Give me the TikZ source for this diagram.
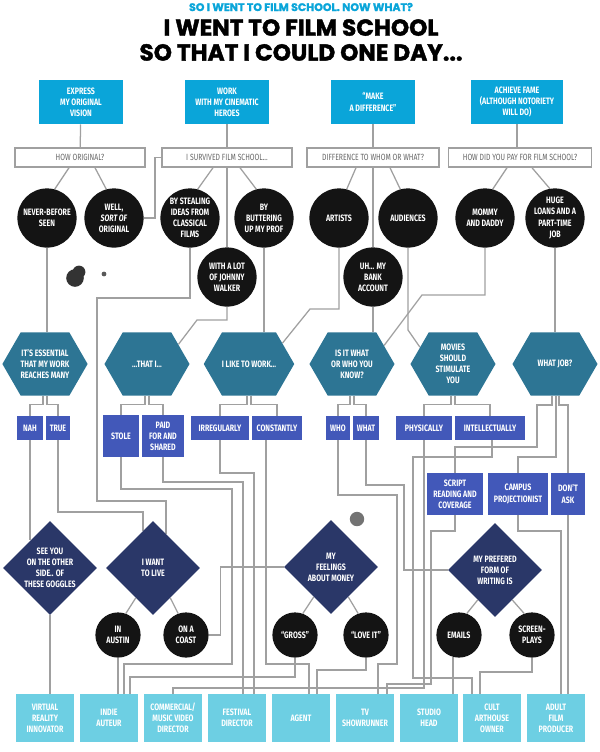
\documentclass[tikz,border=0pt]{standalone}
\usepackage{fontspec}
\setmainfont{Fira Sans}
\newfontfamily\condfont{Fira Sans}[FakeStretch=0.76]
\newfontfamily\titlefont{Poppins}[BoldFeatures={FakeBold=1.6}]
\usetikzlibrary{shapes.geometric,shapes.symbols,calc,backgrounds}

\definecolor{topblue}{HTML}{0AA5D9}
\definecolor{hexteal}{HTML}{2D7594}
\definecolor{rectblue}{HTML}{4258B9}
\definecolor{navy}{HTML}{2A3768}
\definecolor{pale}{HTML}{6DCFE3}
\definecolor{linegrey}{HTML}{A0A0A0}

\tikzset{
  lbl/.style={font=\condfont\bfseries\fontsize{6.6}{7.9}\selectfont, text=white, align=center},
  topbox/.style={lbl, rectangle, fill=topblue, minimum width=2.08cm, minimum height=1.1cm, inner sep=0},
  question/.style={rectangle, draw=linegrey, line width=0.9pt, fill=white, minimum height=0.48cm,
    inner sep=0, align=center, text=black!60, font=\condfont\fontsize{6.4}{7.7}\selectfont},
  bubble/.style={lbl, circle, fill=black!92, minimum size=1.48cm, inner sep=-3pt},
  smallbubble/.style={bubble, minimum size=1.13cm},
  hexa/.style={lbl, signal, signal to=east and west, signal pointer angle=120, fill=hexteal,
    minimum width=2.125cm, minimum height=1.575cm, inner sep=0},
  answer/.style={lbl, rectangle, fill=rectblue, minimum height=0.58cm, inner sep=0},
  decision/.style={lbl, diamond, fill=navy, minimum size=2.35cm, inner sep=-4pt},
  career/.style={lbl, rectangle, fill=pale, minimum width=1.45cm, minimum height=1.18cm, inner sep=0},
  wire/.style={draw=linegrey, line width=0.9pt},
}

\begin{document}
\begin{tikzpicture}[x=0.025cm,y=-0.025cm]
\useasboundingbox (0,0) rectangle (600,752);

% titles
\node[font=\titlefont\bfseries\fontsize{7.8}{9}\selectfont, text=topblue] (kicker) at (301,7) {SO I WENT TO FILM SCHOOL. NOW WHAT?};
\node[font=\titlefont\bfseries\fontsize{16.5}{17.7}\selectfont, align=center] (headline) at (301,40) {I WENT TO FILM SCHOOL\\SO THAT I COULD ONE DAY...};

% goals
\node[topbox] (e1) at (81,102) {EXPRESS\\MY ORIGINAL\\VISION};
\node[topbox] (e2) at (227,102) {WORK\\WITH MY CINEMATIC\\HEROES};
\node[topbox] (e3) at (373,102) {“MAKE\\A DIFFERENCE”};
\node[topbox, minimum width=2.3cm] (e4) at (517,102) {ACHIEVE FAME\\(ALTHOUGH NOTORIETY\\WILL DO)};

\node[question, minimum width=3.25cm] (q1) at (80,157.5) {HOW ORIGINAL?};
\node[question, minimum width=3.25cm] (q2) at (227,157.5) {I SURVIVED FILM SCHOOL...};
\node[question, minimum width=3.3cm] (q3) at (373,157.5) {DIFFERENCE TO WHOM OR WHAT?};
\node[question, minimum width=3.58cm] (q4) at (520,157.5) {HOW DID YOU PAY FOR FILM SCHOOL?};

% first answers
\node[bubble] (c_never) at (47,218) {NEVER-BEFORE\\SEEN};
\node[bubble] (c_well) at (114,218) {WELL,\\\textit{SORT OF}\\ORIGINAL};
\node[bubble] (c_steal) at (190,218) {BY STEALING\\IDEAS FROM\\CLASSICAL\\FILMS};
\node[bubble] (c_butter) at (264,218) {BY\\BUTTERING\\UP MY PROF};
\node[bubble] (c_artists) at (339,218) {ARTISTS};
\node[bubble] (c_aud) at (408,218) {AUDIENCES};
\node[bubble] (c_mommy) at (485,218) {MOMMY\\AND DADDY};
\node[bubble] (c_loans) at (555,218) {HUGE\\LOANS AND A\\PART-TIME\\JOB};
\node[bubble] (c_johnny) at (227,277) {WITH A LOT\\OF JOHNNY\\WALKER};
\node[bubble] (c_bank) at (373,277) {UH... MY\\BANK\\ACCOUNT};

% hexagons
\node[hexa] (h1) at (45,364) {IT’S ESSENTIAL\\THAT MY WORK\\REACHES MANY};
\node[hexa] (h2) at (147,364) {...THAT I...};
\node[hexa] (h3) at (249,364) {I LIKE TO WORK...};
\node[hexa] (h4) at (352,364) {IS IT WHAT\\OR WHO YOU\\KNOW?};
\node[hexa] (h5) at (453,364) {MOVIES\\SHOULD\\STIMULATE\\YOU};
\node[hexa] (h6) at (555,364) {WHAT JOB?};

% blue answers
\node[answer, minimum width=0.63cm] (r_nah) at (30,428) {NAH};
\node[answer, minimum width=0.6cm] (r_true) at (58,428) {TRUE};
\node[answer, minimum width=0.9cm, minimum height=1.05cm] (r_stole) at (121,436) {STOLE};
\node[answer, minimum width=1.03cm, minimum height=1.05cm] (r_paid) at (163,436) {PAID\\FOR AND\\SHARED};
\node[answer, minimum width=1.45cm] (r_irreg) at (220,428) {IRREGULARLY};
\node[answer, minimum width=1.25cm] (r_const) at (277,428) {CONSTANTLY};
\node[answer, minimum width=0.6cm] (r_who) at (338,428) {WHO};
\node[answer, minimum width=0.65cm] (r_what) at (366,428) {WHAT};
\node[answer, minimum width=1.38cm] (r_phys) at (424,428) {PHYSICALLY};
\node[answer, minimum width=1.73cm] (r_intel) at (490,428) {INTELLECTUALLY};
\node[answer, minimum width=1.4cm, minimum height=1.05cm] (r_script) at (455,494) {SCRIPT\\READING AND\\COVERAGE};
\node[answer, minimum width=1.5cm, minimum height=1.05cm] (r_campus) at (518,494) {CAMPUS\\PROJECTIONIST};
\node[answer, minimum width=0.83cm, minimum height=1.05cm] (r_dont) at (568,494) {DON’T\\ASK};

% diamonds
\node[decision] (d_goggles) at (50,568) {SEE YOU\\ON THE OTHER\\SIDE.. OF\\THESE GOGGLES};
\node[decision] (d_live) at (153,568) {I WANT\\TO LIVE};
\node[decision] (d_money) at (331,567) {MY\\FEELINGS\\ABOUT MONEY};
\node[decision] (d_write) at (495,570) {MY PREFERED\\FORM OF\\WRITING IS};

\node[smallbubble] (c_austin) at (118,635) {IN\\AUSTIN};
\node[smallbubble] (c_coast) at (186,635) {ON A\\COAST};
\node[smallbubble] (c_gross) at (295,635) {“GROSS”};
\node[smallbubble] (c_love) at (366,635) {“LOVE IT”};
\node[smallbubble] (c_emails) at (459,635) {EMAILS};
\node[smallbubble] (c_screen) at (532,635) {SCREEN-\\PLAYS};

% careers
\node[career] (b_vr) at (45,718) {VIRTUAL\\REALITY\\INNOVATOR};
\node[career] (b_indie) at (109,718) {INDIE\\AUTEUR};
\node[career] (b_comm) at (173,718) {COMMERCIAL/\\MUSIC VIDEO\\DIRECTOR};
\node[career] (b_fest) at (237,718) {FESTIVAL\\DIRECTOR};
\node[career] (b_agent) at (301,718) {AGENT};
\node[career] (b_tv) at (365,718) {TV\\SHOWRUNNER};
\node[career] (b_studio) at (429,718) {STUDIO\\HEAD};
\node[career] (b_cult) at (492,718) {CULT\\ARTHOUSE\\OWNER};
\node[career] (b_adult) at (556,718) {ADULT\\FILM\\PRODUCER};

% ink blots
\fill[black!80] (75,278) circle [radius=0.22cm];
\fill[black!80] (79,272) circle [radius=0.16cm];
\fill[black!65] (104,274) circle [radius=0.06cm];
\fill[black!55] (357,519) circle [radius=0.18cm];

\begin{scope}[on background layer]
% top
\foreach \a/\b in {e1/q1,e2/q2,e3/q3} \draw[wire] (\a) -- (\b);
\draw[wire] (e4.south) -- (e4.south |- q4.north);
\draw[wire] ($(q1.south)+(-11,0)$) -- (c_never.75);
\draw[wire] ($(q1.south)+(15,0)$) -- (c_well.105);
\draw[wire] ($(q2.south)+(-14,0)$) -- (c_steal.75);
\draw[wire] (q2) -- (c_johnny);
\draw[wire] ($(q2.south)+(13,0)$) -- (c_butter.105);
\draw[wire] ($(q3.south)+(-17,0)$) -- (c_artists.75);
\draw[wire] (q3) -- (c_bank);
\draw[wire] ($(q3.south)+(17,0)$) -- (c_aud.105);
\draw[wire] ($(q4.south)+(-13,0)$) -- (c_mommy.75);
\draw[wire] ($(q4.south)+(12,0)$) -- (c_loans.100);
\draw[wire] (c_well.east) -- ++(11,0) |- (q2.west);

% into the hexagons
\draw[wire] (c_never.south) -- (c_never.south |- h1.north);
\draw[wire] (c_steal.south) |- (97,298) |- (d_live.69 |- 0,501) -- (d_live.69);
\draw[wire] (c_johnny.south) |- (197,320) -- (h2.32);
\draw[wire] (c_butter.south) -- (c_butter.south |- h3.north);
\draw[wire] (c_artists.south) |- (310,309) -- (h3.32);
\draw[wire] (c_bank.south) -- (c_bank.south |- h4.north);
\draw[wire] (c_aud.south) -- (408,330) -- (h5.153);
\draw[wire] (c_mommy.south) |- (422,295) -- (h4.30);
\draw[wire] (c_loans.south) -- (c_loans.south |- h6.north);

% hexagon forks
\foreach \h/\l/\r in {h1/r_nah/r_true,h2/r_stole/r_paid,h3/r_irreg/r_const,h4/r_who/r_what,h5/r_phys/r_intel}{
  \draw[wire] ($(\h.south)+(-2,0)$) -- ++(0,9) -| (\l.north);
  \draw[wire] ($(\h.south)+(2,0)$) -- ++(0,9) -| (\r.north);
}
\draw[wire] ($(h6.south)+(-3,0)$) |- (537,405) |- (r_script.north |- 0,447) -- (r_script.north);
\draw[wire] ($(h6.south)+(1,0)$) |- (r_campus.north |- 0,457) -- (r_campus.north);
\draw[wire] ($(h6.south)+(4,0)$) |- (r_dont.north |- 0,405) -- (r_dont.north);

% answers downward
\draw[wire] (r_nah.south) -- (r_nah.south |- d_goggles.125);
\draw[wire] (r_true.south) |- (d_live.105 |- 0,512) -- (d_live.105);
\draw[wire] (r_stole.south) |- (232,489) |- (124,664) -- (b_indie.north -| 124,0);
\draw[wire] (r_paid.south) |- (243,482) -- (b_fest.north -| 243,0);
\draw[wire] (r_irreg.south) |- (254,473) -- (b_fest.north -| 254,0);
\draw[wire] ($(r_const.south)+(-11,0)$) |- (309,664) -- (b_agent.north -| 309,0);
\draw[wire] (r_who.south) |- (397,495) |- (378,664) -- (b_tv.north -| 378,0);
\draw[wire] (r_what.south) |- (404,485) |- (d_write.west);
\draw[wire] (r_phys.south) |- (b_comm.north |- 0,688) -- (b_comm.north);
\draw[wire] ($(r_intel.south)+(2,0)$) |- (413,457) |- (472,678) -- (b_cult.north -| 472,0);
\draw[wire] (r_script.south) |- (431,531) |- (387,684) -- (b_tv.north -| 387,0);
\draw[wire] (r_campus.south) |- (561,531) -- (b_adult.north -| 561,0);
\draw[wire] (r_dont.south) -- (r_dont.south |- b_adult.north);

% diamonds
\draw[wire] (d_goggles.south) -- (d_goggles.south |- b_vr.north);
\draw[wire] (d_live.-120) -- (c_austin.70);
\draw[wire] (d_live.-60) -- (c_coast.110);
\draw[wire] (d_money.-120) -- (c_gross.70);
\draw[wire] (d_money.-60) -- (c_love.110);
\draw[wire] (d_write.-120) -- (c_emails.70);
\draw[wire] (d_write.-60) -- (c_screen.110);

% last step
\draw[wire] (c_austin.south) -- (c_austin.south |- b_indie.north);
\draw[wire] (c_coast.east) -- ++(11.5,0) |- (d_money.west);
\draw[wire] (c_gross.south) |- (130,677) -- (b_indie.north -| 130,0);
\draw[wire] (c_love.south) |- (317,670) -- (b_agent.north -| 317,0);
\draw[wire] (c_emails.-105) -- (c_emails.-105 |- b_studio.north);
\draw[wire] (c_screen.south) |- (480,672) -- (b_cult.north -| 480,0);
\end{scope}
\end{tikzpicture}
\end{document}
